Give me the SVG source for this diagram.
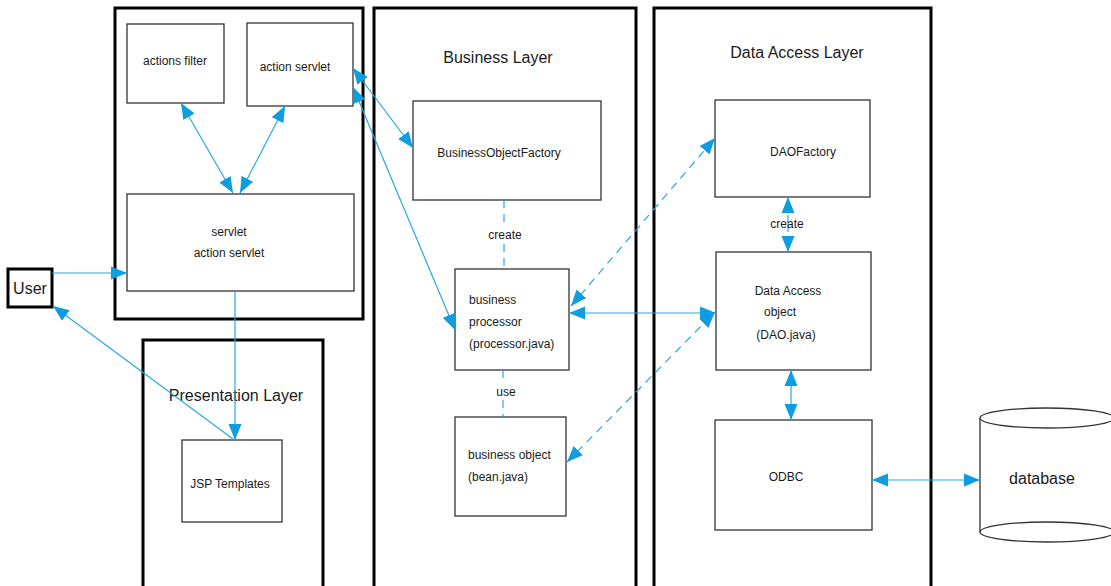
<svg xmlns="http://www.w3.org/2000/svg" width="1111" height="586" viewBox="0 0 1111 586">
<style>
.layer{fill:none;stroke:#000;stroke-width:3}
.box{fill:#fff;stroke:#333;stroke-width:1.3}
.t{font-family:"Liberation Sans",Arial,sans-serif;font-size:12px;fill:#1a1a1a}
.title{font-family:"Liberation Sans",Arial,sans-serif;font-size:16px;fill:#1a1a1a;text-anchor:middle}
.c{text-anchor:middle}
.ln{fill:none;stroke:#29a7e1;stroke-width:1.2}
.dash{stroke-dasharray:8,6}
</style>
<defs>
<marker id="ah" markerUnits="userSpaceOnUse" markerWidth="17" markerHeight="14" refX="16" refY="7" orient="auto-start-reverse" viewBox="0 0 17 14">
<path d="M0,0.5 L16,7 L0,13.5 z" fill="#0d9de0"/>
</marker>
</defs>
<rect width="1111" height="586" fill="#fff"/>

<g id="layers">
<rect class="layer" x="115" y="8" width="248" height="311"/>
<rect class="layer" x="374" y="8" width="262" height="590"/>
<text class="title" x="498" y="63">Business Layer</text>
<rect class="layer" x="654" y="8" width="277" height="590"/>
<text class="title" x="797" y="58">Data Access Layer</text>
<rect class="layer" x="143" y="340" width="180" height="260"/>
<text class="title" x="236" y="401">Presentation Layer</text>
</g>

<g id="user">
<rect x="8" y="269" width="44" height="38" fill="#fff" stroke="#000" stroke-width="3"/>
<text class="title" x="30" y="294">User</text>
</g>
<g id="actions-filter">
<rect class="box" x="127" y="24" width="97" height="79"/>
<text class="t c" x="175" y="65">actions filter</text>
</g>
<g id="action-servlet">
<rect class="box" x="247" y="23" width="106" height="83"/>
<text class="t c" x="295" y="71">action servlet</text>
</g>
<g id="servlet">
<rect class="box" x="127" y="194" width="227" height="97"/>
<text class="t c" x="229" y="236">servlet</text>
<text class="t c" x="229" y="257">action servlet</text>
</g>
<g id="jsp">
<rect class="box" x="182" y="440" width="100" height="82"/>
<text class="t c" x="230" y="488">JSP Templates</text>
</g>
<g id="bof">
<rect class="box" x="413" y="101" width="188" height="99"/>
<text class="t c" x="499" y="157">BusinessObjectFactory</text>
</g>
<g id="processor">
<rect class="box" x="455" y="269" width="114" height="101"/>
<text class="t" x="469" y="304">business</text>
<text class="t" x="469" y="326">processor</text>
<text class="t" x="469" y="348">(processor.java)</text>
</g>
<g id="bean">
<rect class="box" x="455" y="417" width="111" height="99"/>
<text class="t" x="468" y="459">business object</text>
<text class="t" x="468" y="481">(bean.java)</text>
</g>
<g id="daofactory">
<rect class="box" x="715" y="100" width="155" height="97"/>
<text class="t c" x="803" y="156">DAOFactory</text>
</g>
<g id="dao">
<rect class="box" x="716" y="252" width="155" height="118"/>
<text class="t c" x="788" y="295">Data Access</text>
<text class="t c" x="780" y="316">object</text>
<text class="t c" x="786" y="339">(DAO.java)</text>
</g>
<g id="odbc">
<rect class="box" x="715" y="420" width="157" height="110"/>
<text class="t c" x="786" y="481">ODBC</text>
</g>
<g id="database">
<path d="M980,418 L980,532 A67,10 0 0 0 1114,532 L1114,418" fill="#fff" stroke="#333" stroke-width="1.3"/>
<path d="M980,532 A67,10 0 0 1 1114,532" fill="none" stroke="#333" stroke-width="1.3"/>
<ellipse cx="1047" cy="418" rx="67" ry="10" fill="#fff" stroke="#333" stroke-width="1.3"/>
<text class="title" x="1042" y="484">database</text>
</g>

<g id="connectors">
<line class="ln" x1="52" y1="273" x2="127" y2="273" marker-end="url(#ah)"/>
<line class="ln" x1="233" y1="193" x2="181" y2="103" marker-start="url(#ah)" marker-end="url(#ah)"/>
<line class="ln" x1="240" y1="193" x2="285" y2="106" marker-start="url(#ah)" marker-end="url(#ah)"/>
<line class="ln" x1="353" y1="68" x2="413" y2="148" marker-start="url(#ah)" marker-end="url(#ah)"/>
<line class="ln" x1="353" y1="87" x2="455" y2="330" marker-start="url(#ah)" marker-end="url(#ah)"/>
<line class="ln" x1="235" y1="291" x2="235" y2="440" marker-end="url(#ah)"/>
<line class="ln" x1="233" y1="439" x2="53" y2="306" marker-end="url(#ah)"/>
<line class="ln dash" x1="504" y1="200" x2="504" y2="228"/>
<line class="ln dash" x1="504" y1="244" x2="504" y2="269"/>
<text class="t c" x="505" y="239">create</text>
<line class="ln dash" x1="503" y1="370" x2="503" y2="384"/>
<line class="ln dash" x1="503" y1="400" x2="503" y2="417"/>
<text class="t c" x="506" y="396">use</text>
<line class="ln" x1="569" y1="313" x2="716" y2="313" marker-start="url(#ah)" marker-end="url(#ah)"/>
<line class="ln dash" x1="571" y1="306" x2="715" y2="138" marker-start="url(#ah)" marker-end="url(#ah)"/>
<line class="ln dash" x1="567" y1="462" x2="715" y2="312" marker-start="url(#ah)" marker-end="url(#ah)"/>
<line class="ln" x1="788" y1="210" x2="788" y2="197" marker-end="url(#ah)"/>
<line class="ln" x1="788" y1="239" x2="788" y2="252" marker-end="url(#ah)"/>
<line class="ln" x1="788" y1="215" x2="788" y2="232"/>
<text class="t c" x="787" y="228">create</text>
<line class="ln" x1="791" y1="370" x2="791" y2="420" marker-start="url(#ah)" marker-end="url(#ah)"/>
<line class="ln" x1="872" y1="480" x2="980" y2="480" marker-start="url(#ah)" marker-end="url(#ah)"/>
</g>
</svg>
